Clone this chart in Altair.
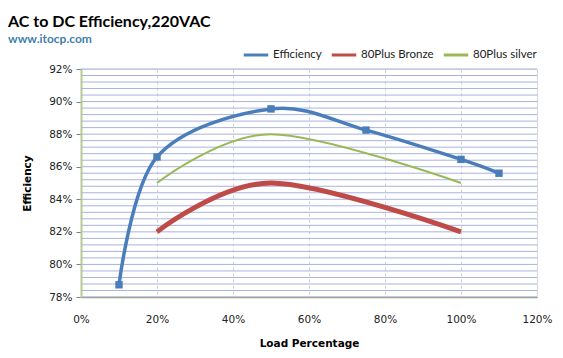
import altair as alt
import pandas as pd

load_eff = [0.10, 0.20, 0.50, 0.75, 1.00, 1.10]
eff = [0.7875, 0.8660, 0.8955, 0.8825, 0.8645, 0.8560]
load_plus = [0.20, 0.50, 1.00]
bronze = [0.82, 0.85, 0.82]
silver = [0.85, 0.88, 0.85]

x_ticks = [0, 0.2, 0.4, 0.6, 0.8, 1.0, 1.2]
y_ticks = [0.78, 0.80, 0.82, 0.84, 0.86, 0.88, 0.90, 0.92]
y_minor = [round(0.78 + 0.004 * i, 4) for i in range(36)]

series_names = ["Efficiency", "80Plus Bronze", "80Plus silver"]
series_colors = ["#4A7EBB", "#BE4B48", "#98B954"]
series_widths = [3.5, 5, 2]

rows = []
for xv, yv in zip(load_eff, eff):
    rows.append({"load": xv, "value": yv, "series": "Efficiency"})
for xv, yv in zip(load_plus, bronze):
    rows.append({"load": xv, "value": yv, "series": "80Plus Bronze"})
for xv, yv in zip(load_plus, silver):
    rows.append({"load": xv, "value": yv, "series": "80Plus silver"})
df = pd.DataFrame(rows)
grid_df = pd.DataFrame({"g": y_minor})

FONT = "DejaVu Sans"

xscale = alt.Scale(domain=[0, 1.2], nice=False)
yscale = alt.Scale(domain=[0.78, 0.92], nice=False, zero=False)

x_axis = alt.Axis(
    values=x_ticks, format=".0%", title="Load Percentage",
    grid=True, gridDash=[3, 3], gridColor="#CDD1DC", gridWidth=1,
    ticks=False, domain=True, domainColor="#8E9C6A", domainWidth=1.5, labelPadding=17,
    labelFlush=False,
    labelFont=FONT, labelFontSize=10.5, labelColor="#222222",
    titleFont=FONT, titleFontSize=10.5, titleFontWeight="bold", titlePadding=14,
    titleColor="#000000",
)
y_axis = alt.Axis(
    values=y_ticks, format=".0%", title="Efficiency", grid=False,
    ticks=True, tickSize=5, tickColor="#7F7F7F", domain=True, domainColor="#B7CC8A",
    domainWidth=2, labelPadding=4, labelFlush=False,
    labelFont=FONT, labelFontSize=10.5, labelColor="#222222",
    titleFont=FONT, titleFontSize=10.5, titleFontWeight="bold", titlePadding=16,
    titleColor="#000000",
)

color = alt.Color(
    "series:N",
    scale=alt.Scale(domain=series_names, range=series_colors),
    legend=alt.Legend(
        title=None, orient="none", legendX=161, legendY=-28, direction="horizontal",
        symbolType="stroke", symbolStrokeWidth=3, symbolSize=600,
        labelFont="Lato", labelFontSize=11.5, labelColor="#222222",
        columnPadding=3, symbolOffset=0, labelOffset=3, labelLimit=200,
    ),
)

gridlines = alt.Chart(grid_df).mark_rule(color="#A9B3DC", strokeWidth=1).encode(
    y=alt.Y("g:Q", scale=yscale, axis=y_axis),
)

layers = [gridlines]
for name, col, w in zip(series_names, series_colors, series_widths):
    layers.append(
        alt.Chart(df).transform_filter(alt.datum.series == name)
        .mark_line(interpolate="cardinal", strokeWidth=w)
        .encode(
            x=alt.X("load:Q", scale=xscale, axis=x_axis),
            y=alt.Y("value:Q", scale=yscale, axis=y_axis),
            color=color,
        )
    )

points = alt.Chart(df).transform_filter(alt.datum.series == "Efficiency").mark_square(
    size=55, filled=True, opacity=1, color="#4A7EBB"
).encode(
    x=alt.X("load:Q", scale=xscale, axis=x_axis),
    y=alt.Y("value:Q", scale=yscale, axis=y_axis),
)
layers.append(points)

chart = alt.layer(*layers).properties(
    width=456,
    height=228,
    autosize=alt.AutoSizeParams(type="none"),
    padding={"left": 73, "top": 61, "right": 18, "bottom": 53},
    title=alt.TitleParams(
        text="AC to DC Efficiency,220VAC",
        subtitle="www.itocp.com",
        anchor="start", frame="group", dx=-73, offset=-4,
        font="Lato", fontSize=16, fontWeight="bold", color="#000000",
        subtitleFont="Lato", subtitleFontSize=12, subtitleFontWeight="bold",
        subtitleColor="#3F7FAA", subtitlePadding=4,
    ),
).configure_view(
    fill="#EEF2F9", stroke="#C3D69B", strokeWidth=2,
).configure(background="white")

chart.save("out.html", embed_options={"renderer": "svg", "actions": False})
